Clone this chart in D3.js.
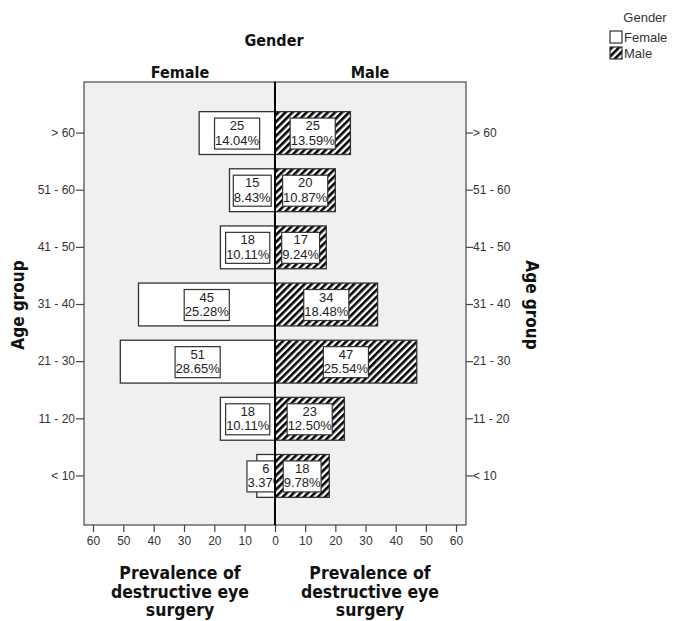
<!DOCTYPE html>
<html><head><meta charset="utf-8">
<script src="https://cdn.jsdelivr.net/npm/d3@7"></script>
<style>body{margin:0;background:#fff}</style>
</head><body>
<script>
const ageGroups = ["> 60","51 - 60","41 - 50","31 - 40","21 - 30","11 - 20","< 10"];
const femaleCounts = [25,15,18,45,51,18,6];
const femalePct = ["14.04%","8.43%","10.11%","25.28%","28.65%","10.11%","3.37%"];
const maleCounts = [25,20,17,34,47,23,18];
const malePct = ["13.59%","10.87%","9.24%","18.48%","25.54%","12.50%","9.78%"];
const xTicks = [0,10,20,30,40,50,60];
const genders = ["Female","Male"];

(function(){
const W=680,H=621;
const svg=d3.select("body").append("svg").attr("width",W).attr("height",H);
const defs=svg.append("defs");
const pat=defs.append("pattern").attr("id","hatch").attr("patternUnits","userSpaceOnUse")
  .attr("width",5).attr("height",5).attr("patternTransform","rotate(45)");
pat.append("rect").attr("width",5).attr("height",5).attr("fill","#fff");
pat.append("rect").attr("width",2.6).attr("height",5).attr("fill","#000");

const pL=84,pR=466,pT=82,pB=525,cx=275;
const xF=d3.scaleLinear().domain([0,60]).range([cx,93]);
const xM=d3.scaleLinear().domain([0,60]).range([cx,456]);
const y=d3.scaleBand().domain(ageGroups).range([104.5,504.5]).paddingInner(0.25).paddingOuter(0.125);

defs.append("clipPath").attr("id","clipF").append("rect").attr("x",pL).attr("y",pT).attr("width",cx-pL).attr("height",pB-pT);
defs.append("clipPath").attr("id","clipM").append("rect").attr("x",cx).attr("y",pT).attr("width",pR-cx).attr("height",pB-pT);

svg.append("rect").attr("x",pL).attr("y",pT).attr("width",pR-pL).attr("height",pB-pT)
  .attr("fill","#f0f0f0").attr("stroke","#555").attr("stroke-width",1.3);

const fontT="Liberation Sans, Arial, sans-serif";
const fontB="DejaVu Sans Condensed, DejaVu Sans, Verdana, sans-serif";

function drawSide(counts,pcts,xs,fill,clip){
  const g=svg.append("g").attr("clip-path",`url(#${clip})`);
  const data=ageGroups.map((a,i)=>({a,c:counts[i],p:pcts[i]}));
  g.selectAll("rect.bar").data(data).join("rect").attr("class","bar")
    .attr("x",d=>Math.min(xs(0),xs(d.c))).attr("width",d=>Math.abs(xs(d.c)-xs(0)))
    .attr("y",d=>y(d.a)).attr("height",y.bandwidth())
    .attr("fill",fill).attr("stroke","#333").attr("stroke-width",1.3);
  data.forEach(d=>{
    const mx=(xs(0)+xs(d.c))/2, my=y(d.a)+y.bandwidth()/2;
    const lg=g.append("g");
    const t1=lg.append("text").attr("x",mx).attr("y",my-3).attr("text-anchor","middle")
      .attr("font-family",fontT).attr("font-size",13).attr("fill","#222").text(d.c);
    const t2=lg.append("text").attr("x",mx).attr("y",my+11.5).attr("text-anchor","middle")
      .attr("font-family",fontT).attr("font-size",13).attr("fill","#222").text(d.p);
    const w=Math.max(t1.node().getComputedTextLength(),t2.node().getComputedTextLength())+1;
    lg.insert("rect","text").attr("x",mx-w/2).attr("y",my-15).attr("width",w).attr("height",31)
      .attr("fill","#fff").attr("stroke","#333").attr("stroke-width",1.2);
  });
}
drawSide(femaleCounts,femalePct,xF,"#fff","clipF");
drawSide(maleCounts,malePct,xM,"url(#hatch)","clipM");

svg.append("line").attr("x1",cx).attr("x2",cx).attr("y1",pT).attr("y2",pB).attr("stroke","#000").attr("stroke-width",2);

const yl=svg.append("g").attr("transform",`translate(${pL},0)`).call(d3.axisLeft(y).tickSize(8).tickPadding(1));
const yr=svg.append("g").attr("transform",`translate(${pR},0)`).call(d3.axisRight(y).tickSize(7).tickPadding(0));
const xl=svg.append("g").attr("transform",`translate(0,${pB})`).call(d3.axisBottom(xF).tickValues(xTicks.slice(1)).tickSize(7).tickPadding(4));
const xr=svg.append("g").attr("transform",`translate(0,${pB})`).call(d3.axisBottom(xM).tickValues(xTicks).tickSize(7).tickPadding(4));
[yl,yr,xl,xr].forEach(g=>{
  g.select(".domain").remove();
  g.selectAll(".tick line").attr("stroke","#444").attr("stroke-width",1.2);
  g.selectAll("text").attr("font-family",fontT).attr("font-size",12).attr("fill","#333");
});

function bold(x,yy,txt,size,rot){
  const t=svg.append("text").attr("text-anchor","middle").attr("font-family",fontB)
    .attr("font-weight","bold").attr("font-size",size).attr("fill","#111").text(txt);
  if(rot) t.attr("transform",`translate(${x},${yy}) rotate(${rot})`); else t.attr("x",x).attr("y",yy);
}
bold(274,46,"Gender",16);
bold(180,78,"Female",16);
bold(370,78,"Male",16);
bold(24,305,"Age group",17,-90);
bold(526,305,"Age group",17,90);
["Prevalence of","destructive eye","surgery"].forEach((s,i)=>{
  bold(180,579+i*18.5,s,17.5);
  bold(370,579+i*18.5,s,17.5);
});

const leg=svg.append("g");
leg.append("text").attr("x",645).attr("y",22).attr("text-anchor","middle")
  .attr("font-family",fontT).attr("font-size",13).attr("fill","#333").text("Gender");
genders.forEach((gname,i)=>{
  leg.append("rect").attr("x",610).attr("y",31+i*16).attr("width",12).attr("height",12)
    .attr("fill",i===0?"#fff":"url(#hatch)").attr("stroke","#333").attr("stroke-width",1.2);
  leg.append("text").attr("x",624).attr("y",42+i*16).attr("font-family",fontT)
    .attr("font-size",13).attr("fill","#333").text(gname);
});
})();
</script>
</body></html>
